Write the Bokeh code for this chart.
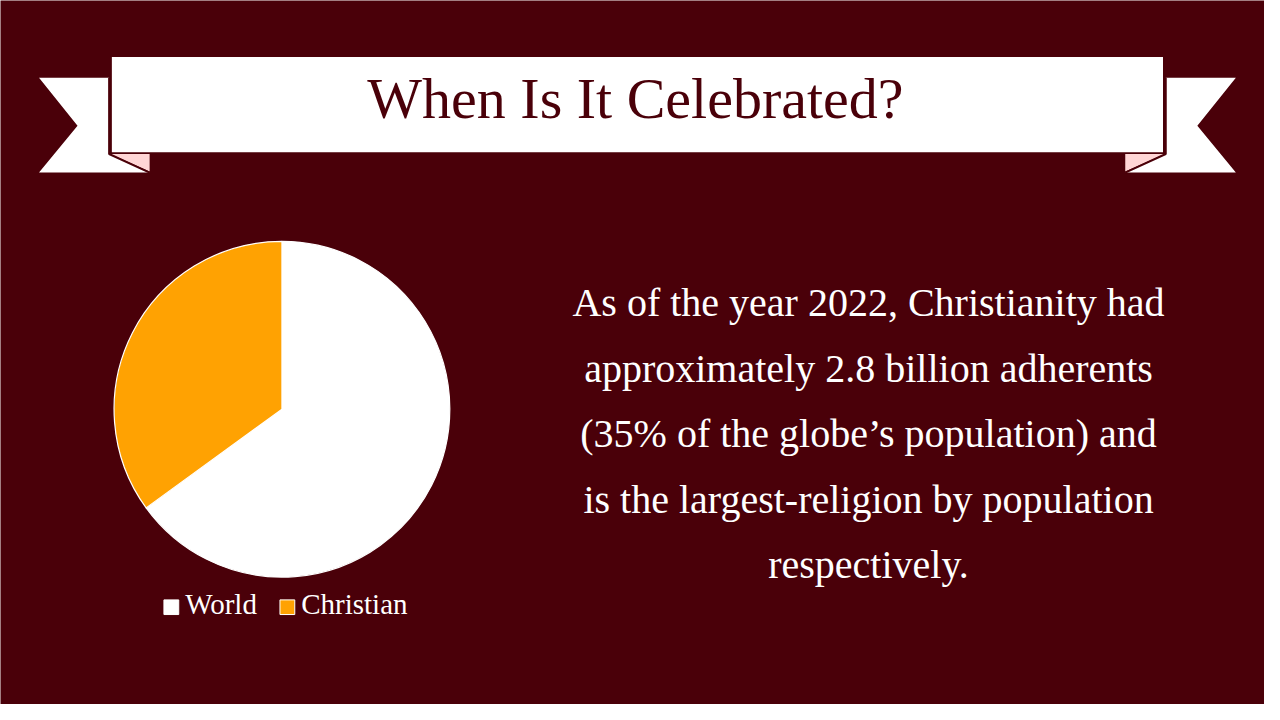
import numpy as np
from bokeh.plotting import figure
from bokeh.models import Range1d
from bokeh.core.properties import value
from bokeh.embed import file_html
from bokeh.resources import INLINE

# ---- data ----
categories = ["World", "Christian"]
shares = [65, 35]
slice_colors = ["#ffffff", "#ffa202"]
title_text = "When Is It Celebrated?"
body_lines = [
    "As of the year 2022, Christianity had",
    "approximately 2.8 billion adherents",
    "(35% of the globe\u2019s population) and",
    "is the largest-religion by population",
    "respectively.",
]

BG = "#4a0009"
FONT = "Liberation Serif"
H = 720
SHIFT = 0.39  # baseline correction, fraction of font size

def Y(py):
    return H - py

def TB(py, fs):
    # data y for an alphabetic baseline at pixel row py
    return H - py + SHIFT * fs * (720 / 704)

p = figure(width=1264, height=704, output_backend="svg", toolbar_location=None,
           x_range=Range1d(0, 1280), y_range=Range1d(0, 720),
           min_border=0, background_fill_color=BG, border_fill_color=BG)
p.axis.visible = False
p.grid.visible = False
p.outline_line_color = None

# ---- banner ----
for side in (1, -1):
    cx = 645
    def X(px):
        return cx + side * (px - cx)
    tail_x = [X(39), X(110), X(110), X(151), X(39), X(78)]
    tail_y = [Y(79), Y(79), Y(157), Y(176), Y(176), Y(128)]
    p.patch(tail_x, tail_y, fill_color="white", line_color=None)
    p.patch([X(111), X(151), X(151)], [Y(157), Y(157), Y(175)],
            fill_color="#ffd6d6", line_color=None)
    p.line([X(110), X(110), X(151)], [Y(79), Y(157), Y(176)],
           line_color=BG, line_width=2)

p.quad(left=[112], right=[1178], top=[Y(57)], bottom=[Y(156)],
       fill_color="white", line_color=BG, line_width=1.5)
fs_title = 58
p.text(x=[643], y=[TB(123, fs_title)], text=[title_text], text_font=value(FONT),
       text_font_size=f"{fs_title}px", text_color=BG, text_align="center",
       text_baseline="alphabetic")

# ---- pie ----
vals = np.array(shares, dtype=float)
fr = vals / vals.sum()
ends = np.pi / 2 - np.concatenate([[0], np.cumsum(fr)[:-1]]) * 2 * np.pi
starts = ends - fr * 2 * np.pi
p.wedge(x=285, y=Y(418), radius=170, start_angle=starts, end_angle=ends,
        fill_color=slice_colors, line_color="white", line_width=1.2)

# ---- legend ----
leg_x = [173, 290.5]
p.rect(x=leg_x, y=[Y(620.5)] * 2, width=15, height=15,
       fill_color=slice_colors, line_color="white", line_width=1)
fs_leg = 29
p.text(x=[l + 14 for l in leg_x], y=[TB(629, fs_leg)] * 2, text=categories,
       text_font=value(FONT), text_font_size=f"{fs_leg}px", text_color="white",
       text_align="left", text_baseline="alphabetic")

# ---- body text ----
baselines = [325, 392, 459, 526, 593]
fs_body = 40
p.text(x=[879] * len(body_lines), y=[TB(b, fs_body) for b in baselines], text=body_lines,
       text_font=value(FONT), text_font_size=f"{fs_body}px", text_color="white",
       text_align="center", text_baseline="alphabetic")

html = file_html(p, INLINE)
html = html.replace("<body>", '<body style="background-color:%s;">' % BG, 1)
open("out.html", "w").write(html)
